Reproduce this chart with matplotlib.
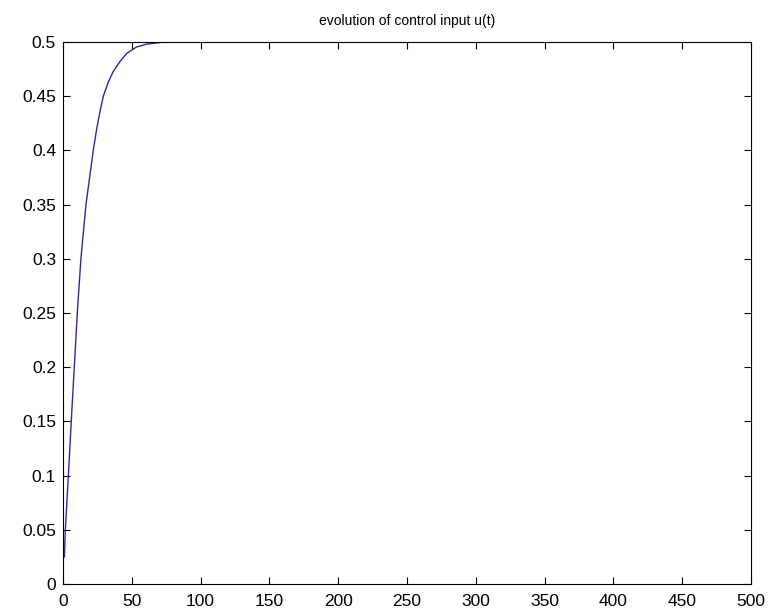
import matplotlib
matplotlib.use("Agg")
import matplotlib.pyplot as plt

t = [1, 1.7, 3.9, 6, 8.2, 10.4, 13, 16.7, 22, 24.5, 26.9, 29.3, 32.9, 36.6, 41.4, 46.3, 53.6, 60.8, 70.5]
u = [0.025, 0.05, 0.10, 0.15, 0.20, 0.25, 0.30, 0.35, 0.40, 0.42, 0.436, 0.45, 0.463, 0.473, 0.482, 0.4895, 0.4955, 0.498, 0.4995]
xticks = [0, 50, 100, 150, 200, 250, 300, 350, 400, 450, 500]
yticks = [0, 0.05, 0.1, 0.15, 0.2, 0.25, 0.3, 0.35, 0.4, 0.45, 0.5]

plt.rcParams['font.family'] = ['Liberation Sans', 'DejaVu Sans']
fig = plt.figure(figsize=(7.68, 6.15), dpi=100)
ax = fig.add_axes([63/768, 1-584/615, (751-63)/768, (584-42)/615])
ax.plot(t, u, color='#2a2a9a', linewidth=1.0)
ax.set_xlim(0, 500)
ax.set_ylim(0, 0.5)
ax.set_xticks(xticks)
ax.set_xticklabels([str(v) for v in xticks])
ax.set_yticks(yticks)
ax.set_yticklabels([f"{v:g}" for v in yticks])
ax.tick_params(direction='in', top=True, right=True, labelsize=12.5, length=5)
ax.tick_params(axis='x', pad=7)
ax.tick_params(axis='y', pad=5)
ax.set_title("evolution of control input u(t)", fontsize=10, pad=12)
fig.savefig("out.png", dpi=100)
